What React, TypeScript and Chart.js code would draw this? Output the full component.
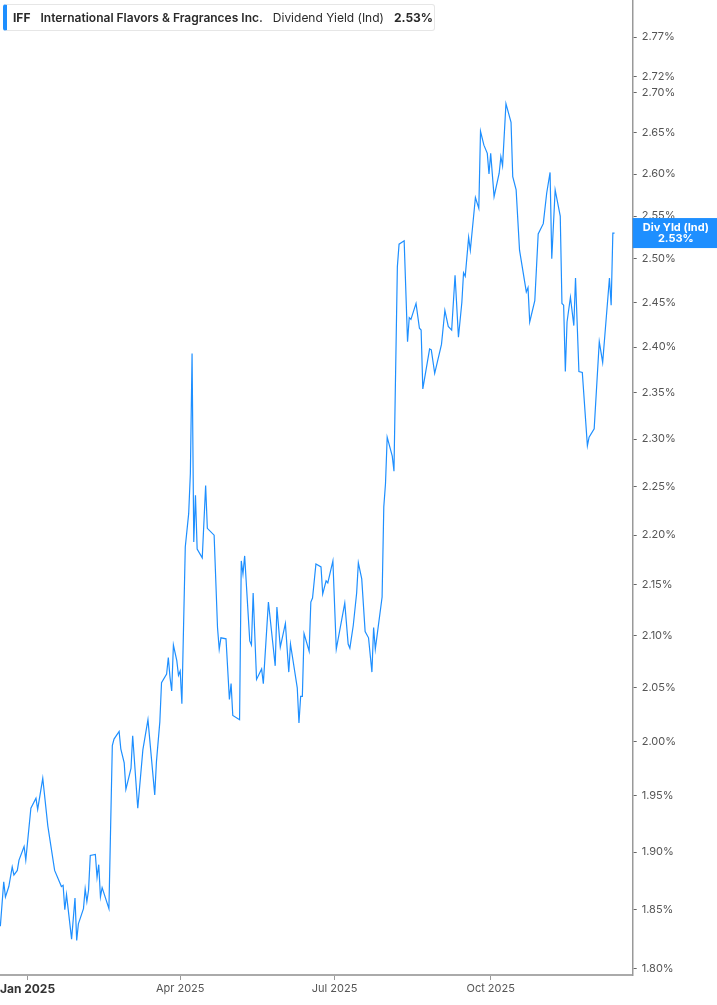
import React, { useEffect, useRef } from "react";
import { Chart, registerables } from "chart.js";

Chart.register(...registerables);

const DATES: string[] = [
  "2024-12-16", "2024-12-18", "2024-12-19", "2024-12-21", "2024-12-23", "2024-12-24", "2024-12-26", "2024-12-27", "2024-12-30", "2024-12-31",
  "2025-01-03", "2025-01-06", "2025-01-07", "2025-01-10", "2025-01-13", "2025-01-17", "2025-01-21", "2025-01-22", "2025-01-23", "2025-01-24",
  "2025-01-27", "2025-01-29", "2025-01-30", "2025-01-31", "2025-02-03", "2025-02-04", "2025-02-05", "2025-02-06", "2025-02-07", "2025-02-10",
  "2025-02-11", "2025-02-12", "2025-02-13", "2025-02-14", "2025-02-18", "2025-02-20", "2025-02-21", "2025-02-24", "2025-02-25", "2025-02-27",
  "2025-02-28", "2025-03-03", "2025-03-04", "2025-03-07", "2025-03-10", "2025-03-13", "2025-03-17", "2025-03-18", "2025-03-20", "2025-03-21",
  "2025-03-24", "2025-03-25", "2025-03-26", "2025-03-27", "2025-03-28", "2025-03-30", "2025-03-31", "2025-04-01", "2025-04-02", "2025-04-04",
  "2025-04-06", "2025-04-07", "2025-04-08", "2025-04-09", "2025-04-10", "2025-04-11", "2025-04-14", "2025-04-16", "2025-04-17", "2025-04-21",
  "2025-04-23", "2025-04-24", "2025-04-25", "2025-04-28", "2025-04-30", "2025-05-01", "2025-05-02", "2025-05-06", "2025-05-07", "2025-05-08",
  "2025-05-09", "2025-05-12", "2025-05-13", "2025-05-14", "2025-05-16", "2025-05-19", "2025-05-20", "2025-05-23", "2025-05-27", "2025-05-28",
  "2025-05-30", "2025-06-02", "2025-06-04", "2025-06-05", "2025-06-09", "2025-06-10", "2025-06-11", "2025-06-12", "2025-06-13", "2025-06-16",
  "2025-06-17", "2025-06-18", "2025-06-20", "2025-06-23", "2025-06-24", "2025-06-26", "2025-06-27", "2025-06-30", "2025-07-02", "2025-07-07",
  "2025-07-09", "2025-07-10", "2025-07-12", "2025-07-14", "2025-07-15", "2025-07-17", "2025-07-19", "2025-07-21", "2025-07-23", "2025-07-24",
  "2025-07-25", "2025-07-29", "2025-07-30", "2025-07-31", "2025-08-01", "2025-08-04", "2025-08-05", "2025-08-07", "2025-08-08", "2025-08-11",
  "2025-08-13", "2025-08-14", "2025-08-15", "2025-08-18", "2025-08-20", "2025-08-21", "2025-08-22", "2025-08-26", "2025-08-27", "2025-08-29",
  "2025-09-02", "2025-09-04", "2025-09-06", "2025-09-08", "2025-09-10", "2025-09-12", "2025-09-14", "2025-09-15", "2025-09-16", "2025-09-18",
  "2025-09-19", "2025-09-22", "2025-09-24", "2025-09-25", "2025-09-27", "2025-09-29", "2025-09-30", "2025-10-01", "2025-10-03", "2025-10-06",
  "2025-10-07", "2025-10-08", "2025-10-10", "2025-10-13", "2025-10-14", "2025-10-16", "2025-10-18", "2025-10-22", "2025-10-23", "2025-10-24",
  "2025-10-27", "2025-10-29", "2025-11-01", "2025-11-03", "2025-11-05", "2025-11-06", "2025-11-08", "2025-11-11", "2025-11-12", "2025-11-13",
  "2025-11-14", "2025-11-15", "2025-11-17", "2025-11-19", "2025-11-20", "2025-11-22", "2025-11-24", "2025-11-27", "2025-11-28", "2025-12-01",
  "2025-12-04", "2025-12-06", "2025-12-10", "2025-12-11", "2025-12-12", "2025-12-13",
];

const YIELD: number[] = [
  1.836, 1.874, 1.861, 1.870, 1.887, 1.880, 1.884, 1.893, 1.905, 1.893,
  1.939, 1.948, 1.938, 1.966, 1.923, 1.884, 1.870, 1.871, 1.850, 1.863,
  1.825, 1.860, 1.824, 1.838, 1.851, 1.868, 1.857, 1.867, 1.897, 1.898,
  1.878, 1.889, 1.861, 1.869, 1.851, 1.996, 2.002, 2.009, 1.993, 1.980,
  1.956, 1.975, 2.005, 1.939, 1.992, 2.020, 1.951, 1.981, 2.018, 2.055,
  2.063, 2.079, 2.060, 2.047, 2.091, 2.076, 2.062, 2.066, 2.035, 2.188,
  2.222, 2.264, 2.393, 2.193, 2.241, 2.186, 2.177, 2.251, 2.207, 2.200,
  2.108, 2.087, 2.098, 2.097, 2.039, 2.054, 2.024, 2.020, 2.174, 2.161,
  2.179, 2.095, 2.091, 2.142, 2.058, 2.068, 2.054, 2.133, 2.071, 2.128,
  2.089, 2.112, 2.065, 2.092, 2.050, 2.017, 2.042, 2.042, 2.102, 2.085,
  2.133, 2.137, 2.171, 2.168, 2.141, 2.154, 2.152, 2.174, 2.087, 2.132,
  2.092, 2.088, 2.110, 2.142, 2.172, 2.156, 2.104, 2.098, 2.065, 2.108,
  2.087, 2.138, 2.229, 2.253, 2.302, 2.282, 2.266, 2.491, 2.517, 2.521,
  2.406, 2.433, 2.431, 2.449, 2.421, 2.419, 2.354, 2.398, 2.397, 2.371,
  2.403, 2.441, 2.423, 2.419, 2.481, 2.411, 2.450, 2.484, 2.480, 2.525,
  2.510, 2.572, 2.559, 2.652, 2.635, 2.625, 2.600, 2.625, 2.573, 2.601,
  2.621, 2.610, 2.686, 2.663, 2.597, 2.581, 2.510, 2.462, 2.467, 2.428,
  2.452, 2.529, 2.541, 2.577, 2.602, 2.500, 2.581, 2.550, 2.449, 2.447,
  2.373, 2.428, 2.456, 2.424, 2.478, 2.373, 2.372, 2.293, 2.302, 2.311,
  2.406, 2.383, 2.478, 2.447, 2.530, 2.530,
];

const X_TICK_DATES: string[] = ["2025-01-01", "2025-04-01", "2025-07-01", "2025-10-01"];
const X_TICK_LABELS: string[] = ["Jan 2025", "Apr 2025", "Jul 2025", "Oct 2025"];
const X_RANGE_DATES: string[] = ["2024-12-16", "2025-12-23"];

const Y_TICKS: number[] = [
  1.8, 1.85, 1.9, 1.95, 2.0, 2.05, 2.1, 2.15, 2.2, 2.25, 2.3, 2.35, 2.4, 2.45, 2.5, 2.55, 2.6, 2.65, 2.7, 2.72, 2.77,
];
const Y_MIN = 1.795;
const Y_MAX = 2.818;

const TICKER = "IFF";
const COMPANY = "International Flavors & Fragrances Inc.";
const METRIC = "Dividend Yield (Ind)";
const TAG_LINE1 = "Div Yld (Ind)";

const BLUE = "#1e8fff";
const FONT = "Inter, 'Noto Sans', sans-serif";

const BASE = Date.UTC(2025, 0, 1);
function dayOffset(s: string): number {
  const [y, m, d] = s.split("-").map(Number);
  return (Date.UTC(y, m - 1, d) - BASE) / 86400000;
}

const fmtPct = (v: number) => v.toFixed(2) + "%";

export default function App() {
  const canvasRef = useRef<HTMLCanvasElement | null>(null);

  useEffect(() => {
    document.body.style.margin = "0";
    document.body.style.background = "#ffffff";
    const canvas = canvasRef.current;
    if (!canvas) return;

    const points = DATES.map((d, i) => ({ x: dayOffset(d), y: YIELD[i] }));
    const xTickVals = X_TICK_DATES.map(dayOffset);
    const lastVal = YIELD[YIELD.length - 1];

    const tagPlugin = {
      id: "lastTag",
      afterDraw(chart: any) {
        const { ctx, chartArea, scales } = chart;
        const yPix = scales.y.getPixelForValue(lastVal);
        const left = chartArea.right;
        const right = chart.width;
        ctx.save();
        ctx.fillStyle = BLUE;
        ctx.fillRect(left, yPix - 15, right - left, 30);
        ctx.fillStyle = "#ffffff";
        ctx.textAlign = "center";
        ctx.textBaseline = "middle";
        ctx.font = `bold 11px ${FONT}`;
        const cx = (left + right) / 2 + 1;
        ctx.fillText(TAG_LINE1, cx, yPix - 5);
        ctx.fillText(fmtPct(lastVal), cx, yPix + 6);
        ctx.restore();
      },
    };

    const chart = new Chart(canvas, {
      type: "line",
      data: {
        datasets: [
          {
            data: points,
            borderColor: BLUE,
            borderWidth: 1.2,
            pointRadius: 0,
            tension: 0,
            fill: false,
          },
        ],
      },
      options: {
        animation: false,
        responsive: false,
        maintainAspectRatio: false,
        layout: { padding: 0 },
        plugins: {
          legend: { display: false },
          tooltip: { enabled: false },
        },
        scales: {
          x: {
            type: "linear",
            min: dayOffset(X_RANGE_DATES[0]) - 0.2,
            max: dayOffset(X_RANGE_DATES[1]) + 0.7,
            afterBuildTicks: (scale: any) => {
              scale.ticks = xTickVals.map((v) => ({ value: v }));
            },
            afterFit: (scale: any) => {
              scale.height = 30;
              scale.paddingLeft = 0;
              scale.paddingRight = 0;
            },
            grid: {
              drawOnChartArea: false,
              drawTicks: true,
              tickLength: 5,
              tickColor: "#999999",
              tickWidth: 1,
            },
            border: { display: true, color: "#aaaaaa", width: 2 },
            ticks: {
              autoSkip: false,
              maxRotation: 0,
              padding: 2,
              callback: (v: any) => {
                const i = xTickVals.indexOf(Number(v));
                return i >= 0 ? X_TICK_LABELS[i] : "";
              },
              color: (ctx: any) => (ctx.tick && ctx.tick.value === xTickVals[0] ? "#333333" : "#555555"),
              font: (ctx: any) =>
                ctx.tick && ctx.tick.value === xTickVals[0]
                  ? { family: FONT, size: 12, weight: "bold" }
                  : { family: FONT, size: 11 },
            },
          },
          y: {
            type: "logarithmic",
            position: "right",
            min: Y_MIN,
            max: Y_MAX,
            afterBuildTicks: (scale: any) => {
              scale.ticks = Y_TICKS.map((v) => ({ value: v }));
            },
            afterFit: (scale: any) => {
              scale.width = 84.3;
              scale.paddingTop = 0;
              scale.paddingBottom = 0;
            },
            grid: {
              drawOnChartArea: false,
              drawTicks: true,
              tickLength: 4,
              tickColor: "#666666",
              tickWidth: 1,
            },
            border: { display: true, color: "#999999", width: 1.5 },
            ticks: {
              autoSkip: false,
              padding: 5,
              color: "#555555",
              font: { family: FONT, size: 11 },
              callback: (v: any) => fmtPct(Number(v)),
            },
          },
        },
      },
      plugins: [tagPlugin],
    } as any);

    return () => {
      chart.destroy();
    };
  }, []);

  return (
    <div style={{ position: "relative", width: 717, height: 1005, overflow: "hidden", background: "#fff" }}>
      <canvas ref={canvasRef} width={717} height={1005} style={{ display: "block", width: 717, height: 1005 }} />
      <div
        style={{
          position: "absolute",
          left: 3,
          top: 4,
          width: 432,
          height: 27,
          boxSizing: "border-box",
          background: "#ffffff",
          border: "1px solid #e6e6e6",
          borderLeft: `4px solid ${BLUE}`,
          borderRadius: 3,
          display: "flex",
          alignItems: "center",
          paddingLeft: 6,
          fontFamily: FONT,
          fontSize: 12,
          color: "#2a2a2a",
          whiteSpace: "nowrap",
          gap: 10,
        }}
      >
        <span style={{ fontWeight: 700 }}>{TICKER}</span>
        <span style={{ fontWeight: 600 }}>{COMPANY}</span>
        <span style={{ fontWeight: 400 }}>{METRIC}</span>
        <span style={{ fontWeight: 700 }}>{fmtPct(YIELD[YIELD.length - 1])}</span>
      </div>
    </div>
  );
}
